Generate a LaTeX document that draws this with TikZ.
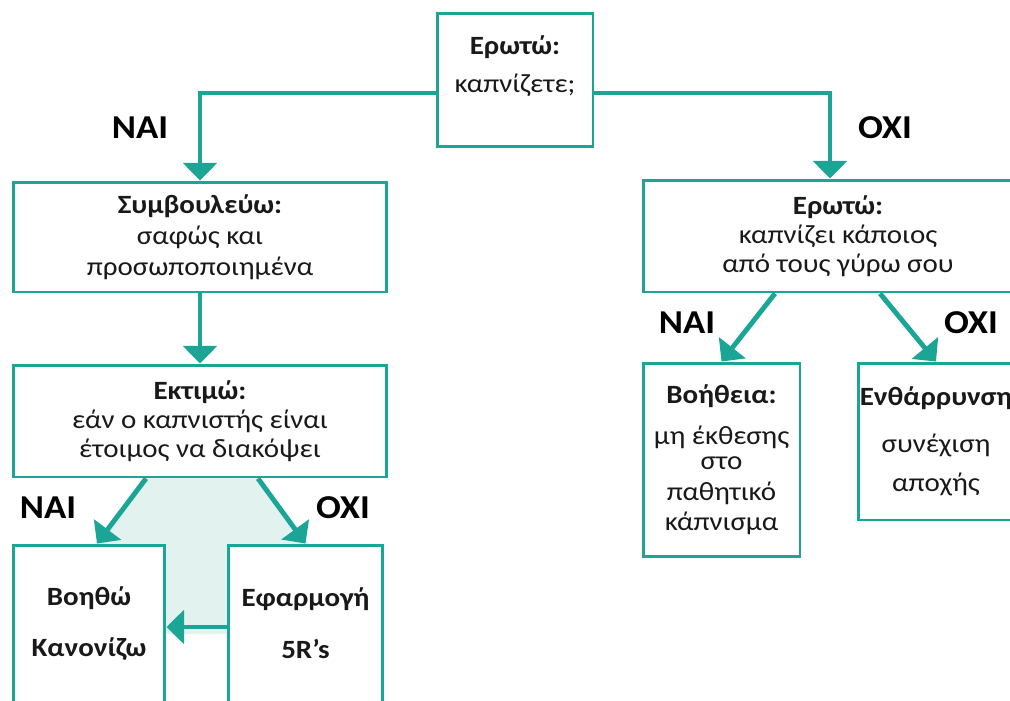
\documentclass[tikz,border=0pt]{standalone}
\usepackage{fontspec}
\setmainfont{Carlito}[FakeStretch=1.1]
\usetikzlibrary{arrows.meta}
\definecolor{flowteal}{HTML}{1BA596}
\definecolor{flowpale}{HTML}{E2F2EF}
\begin{document}
\begin{tikzpicture}[x=0.02cm,y=-0.02cm,
    txt/.style={align=center,text=black!90,font=\fontsize{15}{17.5}\selectfont},
    box/.style={txt,draw=flowteal,line width=1.7pt,fill=white,inner sep=0pt},
    flow/.style={draw=flowteal,line width=2.8pt,-{Triangle[width=19pt,length=10pt]}},
    answer/.style={font=\fontsize{19}{21}\selectfont\bfseries}]
  \useasboundingbox (0,0) rectangle (1010,700);
  \clip (0,0) rectangle (1010,700);
  % shaded band between the two answers
  \fill[flowpale] (146,477) -- (258,477) -- (310,545) -- (228,545) -- (228,634)
    -- (165,634) -- (165,545) -- (94,545) -- cycle;
  % boxes
  \node[box,minimum width=3.12cm,minimum height=2.68cm] (ask) at (515,80) {};
  \node[txt] (askq) at (515,66) {\textbf{Ερωτώ:}\\[4pt]καπνίζετε;};
  \node[box,minimum width=7.48cm,minimum height=2.2cm] (advise) at (200,237)
    {\textbf{Συμβουλεύω:}\\σαφώς και\\προσωποποιημένα};
  \node[box,minimum width=7.48cm,minimum height=2.24cm] (assess) at (200,421)
    {\textbf{Εκτιμώ:}\\[-1pt]εάν ο καπνιστής είναι\\[-1pt]έτοιμος να διακόψει};
  \node[box,minimum width=3.04cm,minimum height=3.14cm] (help) at (89,623.5)
    {\textbf{Βοηθώ}\\[12pt]\textbf{Κανονίζω}};
  \node[box,minimum width=3.1cm,minimum height=3.14cm] (apply) at (305.5,623.5)
    {\textbf{Εφαρμογή}\\[12pt]\textbf{5R's}};
  \node[box,minimum width=7.8cm,minimum height=2.24cm] (askround) at (838,236)
    {\textbf{Ερωτώ:}\\[-1pt]καπνίζει κάποιος\\[-1pt]από τους γύρω σου};
  \node[box,minimum width=3.14cm,minimum height=3.88cm] (support) at (721.5,460)
    {\textbf{Βοήθεια:}\\[6pt]μη έκθεσης\\[-3.5pt]στο\\παθητικό\\κάπνισμα};
  \node[box,minimum width=3.12cm,minimum height=3.14cm] (encourage) at (936,441.5)
    {\textbf{Ενθάρρυνση}\\[9pt]συνέχιση\\[5pt]αποχής};
  % arrows
  \draw[flow] (ask.west |- 0,93) -| (advise.north);
  \draw[flow] (ask.east |- 0,93) -| (askround.north -| 830,0);
  \draw[flow] (advise) -- (assess);
  \draw[flow] (assess.south -| 146,0) -- (help.north -| 97,0);
  \draw[flow] (assess.south -| 258,0) -- (apply.north);
  \draw[flow] (apply.west |- 0,627) -- (help.east |- 0,627);
  \draw[flow] (askround.south -| 775,0) -- (support.north);
  \draw[flow] (askround.south -| 880,0) -- (encourage.north);
  % answers
  \node[answer] (yes1) at (140,128) {ΝΑΙ};
  \node[answer] (no1) at (885,128) {ΟΧΙ};
  \node[answer] (yes2) at (48,508) {ΝΑΙ};
  \node[answer] (no2) at (343,508) {ΟΧΙ};
  \node[answer] (yes3) at (687,323) {ΝΑΙ};
  \node[answer] (no3) at (971,323) {ΟΧΙ};
\end{tikzpicture}
\end{document}
